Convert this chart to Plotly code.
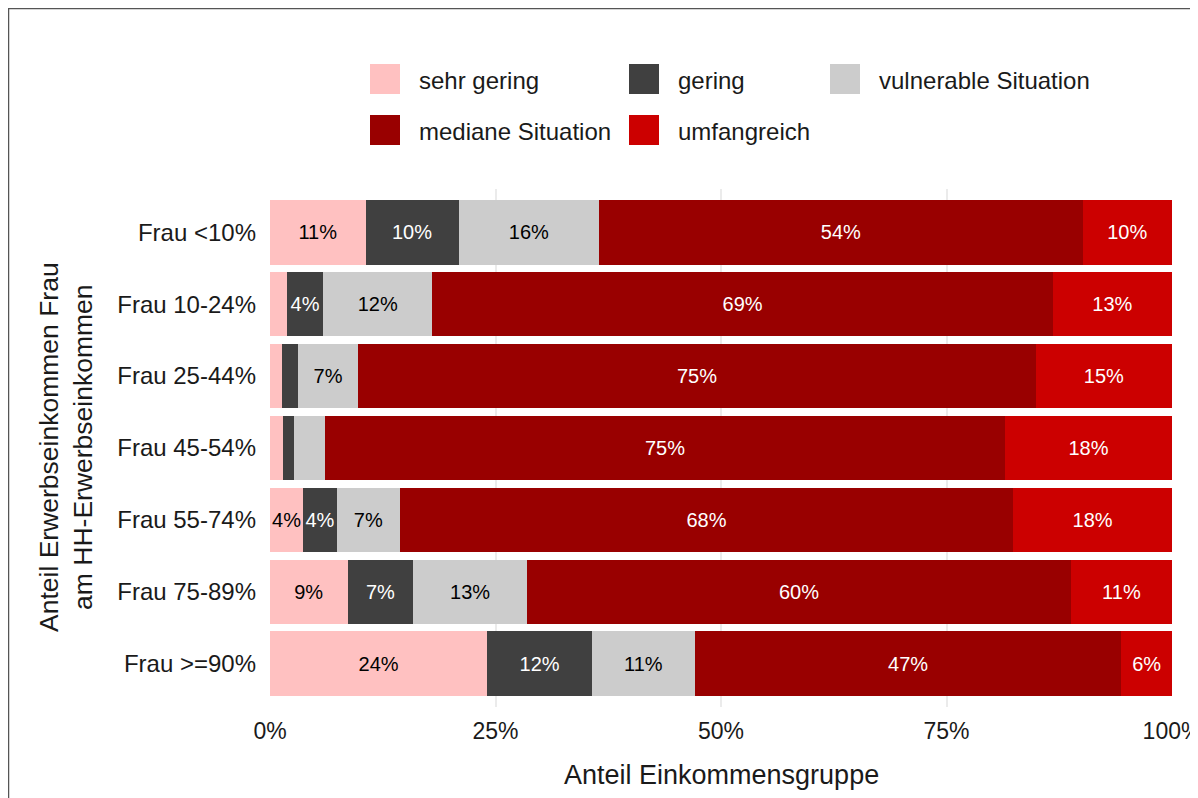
import plotly.graph_objects as go

# categories, top to bottom
groups = ["Frau <10%", "Frau 10-24%", "Frau 25-44%", "Frau 45-54%",
          "Frau 55-74%", "Frau 75-89%", "Frau >=90%"]

# shares (percent) per income group, same order as groups
sehr_gering = [10.6, 1.9, 1.3, 1.4, 3.7, 8.6, 24.1]
gering = [10.3, 4.0, 1.8, 1.3, 3.7, 7.3, 11.6]
vulnerable = [15.6, 12.1, 6.7, 3.4, 7.0, 12.6, 11.4]
mediane = [53.6, 68.8, 75.1, 75.4, 68.0, 60.3, 47.3]
umfangreich = [9.9, 13.2, 15.1, 18.5, 17.6, 11.2, 5.6]

series = [
    ("sehr gering", sehr_gering, "#FFC1C1", "black"),
    ("gering", gering, "#404040", "white"),
    ("vulnerable Situation", vulnerable, "#CCCCCC", "black"),
    ("mediane Situation", mediane, "#990000", "white"),
    ("umfangreich", umfangreich, "#CC0000", "white"),
]

FONT = "Liberation Sans, Arial, sans-serif"

fig = go.Figure()
for name, vals, color, txtcol in series:
    fig.add_trace(go.Bar(
        y=groups,
        x=[v / 100 for v in vals],
        name=name,
        orientation="h",
        marker=dict(color=color, line=dict(width=0)),
        text=[f"{round(v)}%" if v >= 3.5 else "" for v in vals],
        textposition="inside",
        insidetextanchor="middle",
        constraintext="none",
        textangle=0,
        textfont=dict(color=txtcol, size=20, family=FONT),
        showlegend=False,
        hovertemplate="%{y}<br>" + name + ": %{x:.1%}<extra></extra>",
    ))

# page is drawn with an 8px body offset; plot area on screen: x 270..1172, y 189..707
OFF = 8
W, H = 1198, 798
L, T = 270 - OFF, 189 - OFF
R, B = W - (1172 - OFF), H - (707 - OFF)
pw, ph = W - L - R, H - T - B


def px(xs):
    return (xs - OFF - L) / pw


def py(ys):
    return (H - B - (ys - OFF)) / ph


# manual legend (ggplot style, 3 + 2 entries), screen coords of swatches
shapes = []
annotations = []
legend_pos = [(370, 64), (629, 64), (830, 64), (370, 115), (629, 115)]
for (name, _, color, _), (lx, ly) in zip(series, legend_pos):
    shapes.append(dict(type="rect", xref="paper", yref="paper",
                       x0=px(lx), x1=px(lx + 30), y0=py(ly + 30), y1=py(ly),
                       fillcolor=color, line=dict(width=0)))
    annotations.append(dict(xref="paper", yref="paper", x=px(lx + 47), y=py(ly + 16),
                            text=name, showarrow=False, xanchor="left", yanchor="middle",
                            font=dict(size=24, color="#1a1a1a", family=FONT)))

# border round the whole figure
shapes.append(dict(type="rect", xref="paper", yref="paper",
                   x0=px(8.5), x1=px(1215), y0=py(810), y1=py(8.5),
                   line=dict(color="#555555", width=1.5), fillcolor="rgba(0,0,0,0)"))

annotations.append(dict(xref="paper", yref="paper", x=px(721), y=py(775),
                        text="Anteil Einkommensgruppe", showarrow=False,
                        xanchor="center", yanchor="middle",
                        font=dict(size=27, color="#1a1a1a", family=FONT)))
annotations.append(dict(xref="paper", yref="paper", x=px(66), y=py(447),
                        text="Anteil Erwerbseinkommen Frau<br>am HH-Erwerbseinkommen",
                        showarrow=False, textangle=-90,
                        xanchor="center", yanchor="middle",
                        font=dict(size=26.5, color="#1a1a1a", family=FONT)))

fig.update_layout(
    width=W, height=H,
    margin=dict(l=L, r=R, t=T, b=B, autoexpand=False),
    barmode="stack",
    bargap=0.1,
    plot_bgcolor="white",
    paper_bgcolor="white",
    font=dict(family=FONT, size=24, color="#1a1a1a"),
    shapes=shapes,
    annotations=annotations,
    xaxis=dict(
        range=[0, 1],
        tickvals=[0, 0.25, 0.5, 0.75, 1],
        ticktext=["0%", "25%", "50%", "75%", "100%"],
        showgrid=True, gridcolor="#EBEBEB", gridwidth=1.5,
        zeroline=False, showline=False,
        tickfont=dict(size=23, color="#1a1a1a"),
        ticks="", ticklabelstandoff=8,
        ticklabeloverflow="allow",
        automargin=False,
    ),
    yaxis=dict(
        categoryorder="array",
        categoryarray=groups[::-1],
        range=[-0.6, 6.6],
        showgrid=False, zeroline=False, showline=False,
        tickfont=dict(size=24, color="#1a1a1a"),
        ticks="", ticklabelstandoff=13,
        automargin=False,
    ),
)

fig.write_html("out.html")
